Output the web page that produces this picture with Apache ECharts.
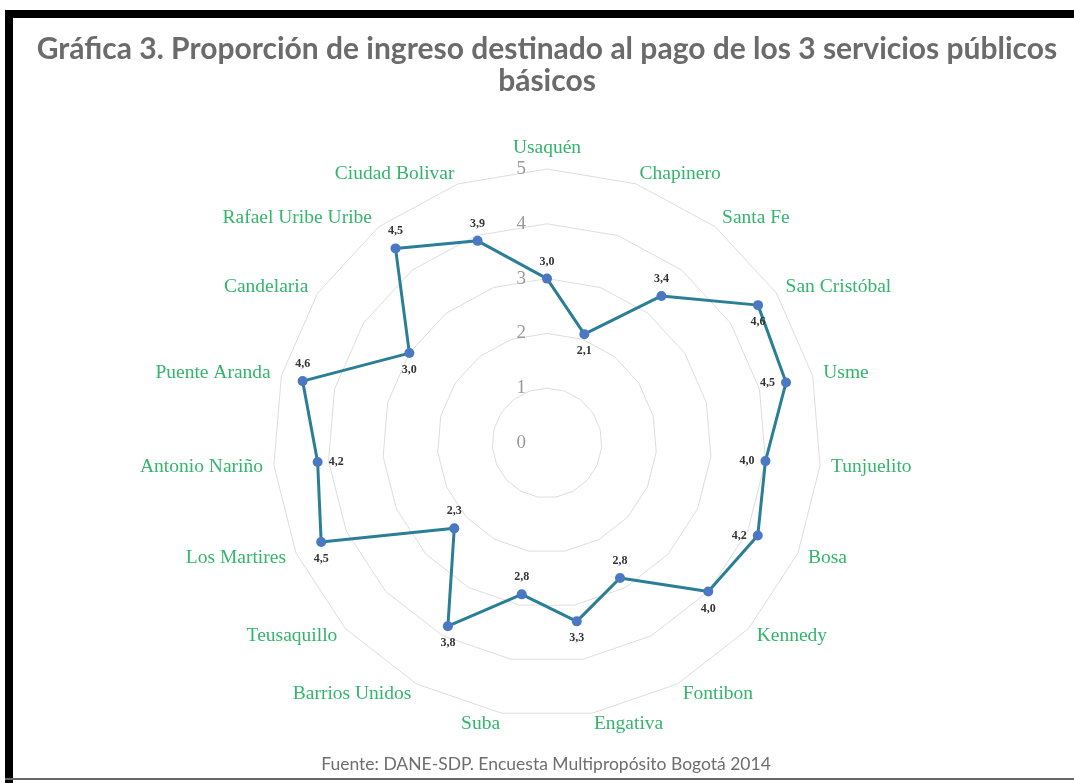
<!DOCTYPE html>
<html>
<head>
<meta charset="utf-8">
<script src="https://cdn.jsdelivr.net/npm/echarts@6/dist/echarts.min.js"></script>
<style>
  html, body { margin: 0; padding: 0; background: #ffffff; }
  #chart { width: 1074px; height: 783px; }
</style>
</head>
<body>
<div id="chart"></div>
<script>
// Localidades de Bogotá, en el orden de las agujas del reloj desde arriba
const categories = [
  'Usaquén', 'Chapinero', 'Santa Fe', 'San Cristóbal', 'Usme', 'Tunjuelito',
  'Bosa', 'Kennedy', 'Fontibon', 'Engativa', 'Suba', 'Barrios Unidos',
  'Teusaquillo', 'Los Martires', 'Antonio Nariño', 'Puente Aranda',
  'Candelaria', 'Rafael Uribe Uribe', 'Ciudad Bolivar'
];
// Porcentaje del ingreso destinado a los 3 servicios públicos básicos
const values = [3.0, 2.1, 3.4, 4.6, 4.5, 4.0, 4.2, 4.0, 2.8, 3.3, 2.8, 3.8, 2.3, 4.5, 4.2, 4.6, 3.0, 4.5, 3.9];
const radiusTicks = [0, 1, 2, 3, 4, 5];
const titleText = 'Gráfica 3. Proporción de ingreso destinado al pago de los 3 servicios públicos\nbásicos';
const sourceText = 'Fuente: DANE-SDP. Encuesta Multipropósito Bogotá 2014';

// Where each value label sits relative to its point
const labelPlacement = [
  'top', 'bottom', 'top', 'bottom', 'left', 'left', 'left', 'bottom', 'top', 'bottom',
  'top', 'bottom', 'top', 'bottom', 'right', 'top', 'bottom', 'top', 'top'
];

const CX = 547, CY = 443, R = 274;
const n = categories.length;
const rMin = radiusTicks[0];
const rMax = radiusTicks[radiusTicks.length - 1];
const rStep = radiusTicks[1] - radiusTicks[0];

// Radar indicators run counter-clockwise, so list them reversed after the first
const indicatorOrder = [0].concat(categories.map((_, i) => i).slice(1).reverse());
const indicators = indicatorOrder.map(i => ({ name: categories[i], min: rMin, max: rMax }));

const fmt = v => v.toFixed(1).replace('.', ',');

const lineData = values.map((v, i) => ({
  value: [v, i],
  label: { position: labelPlacement[i] }
}));
// close the outline back at the first locality
lineData.push({ value: [values[0], n], symbol: 'none', label: { show: false } });

const chart = echarts.init(document.getElementById('chart'), null, { renderer: 'canvas' });

chart.setOption({
  backgroundColor: '#ffffff',
  animation: false,
  title: {
    text: titleText,
    left: 542,
    textAlign: 'center',
    top: 28,
    textStyle: {
      fontFamily: 'Lato',
      fontWeight: 'bold',
      fontSize: 30,
      color: '#6b6b6b',
      lineHeight: 32
    }
  },
  graphic: [
    { type: 'rect', shape: { x: 5, y: 10, width: 1069, height: 8 }, style: { fill: '#000000' } },
    { type: 'rect', shape: { x: 5, y: 10, width: 8, height: 773 }, style: { fill: '#000000' } },
    { type: 'rect', shape: { x: 5, y: 778, width: 1069, height: 2 }, style: { fill: '#666666' } },
    {
      type: 'text',
      x: 546,
      y: 755,
      style: {
        text: sourceText,
        align: 'center',
        fontFamily: 'Lato',
        fontSize: 17.5,
        fill: '#6e6e6e'
      }
    }
  ],
  radar: {
    center: [CX, CY],
    radius: R,
    startAngle: 90,
    splitNumber: (rMax - rMin) / rStep,
    shape: 'polygon',
    indicator: indicators,
    nameGap: 11,
    axisName: {
      color: '#33b56c',
      fontFamily: 'Liberation Serif',
      fontSize: 19.5
    },
    axisLine: { show: false },
    axisTick: { show: false },
    axisLabel: { show: false },
    splitArea: { show: false },
    splitLine: { lineStyle: { color: '#dedede', width: 1 } }
  },
  polar: {
    center: [CX, CY],
    radius: R
  },
  angleAxis: {
    type: 'value',
    min: 0,
    max: n,
    startAngle: 90,
    clockwise: true,
    show: false
  },
  radiusAxis: {
    type: 'value',
    min: rMin,
    max: rMax,
    interval: rStep,
    axisLine: { show: false },
    axisTick: { show: false },
    splitLine: { show: false },
    axisLabel: {
      show: true,
      margin: 21,
      color: '#9a9a9a',
      fontFamily: 'Liberation Serif',
      fontSize: 19
    }
  },
  series: [{
    type: 'line',
    coordinateSystem: 'polar',
    data: lineData,
    symbol: 'circle',
    symbolSize: 10,
    lineStyle: { color: '#2a7f96', width: 3 },
    itemStyle: { color: '#4a78c2' },
    label: {
      show: true,
      distance: 6,
      formatter: p => fmt(p.value[0]),
      fontFamily: 'Liberation Serif',
      fontWeight: 'bold',
      fontSize: 12,
      color: '#333333'
    },
    z: 5
  }]
});
</script>
</body>
</html>
